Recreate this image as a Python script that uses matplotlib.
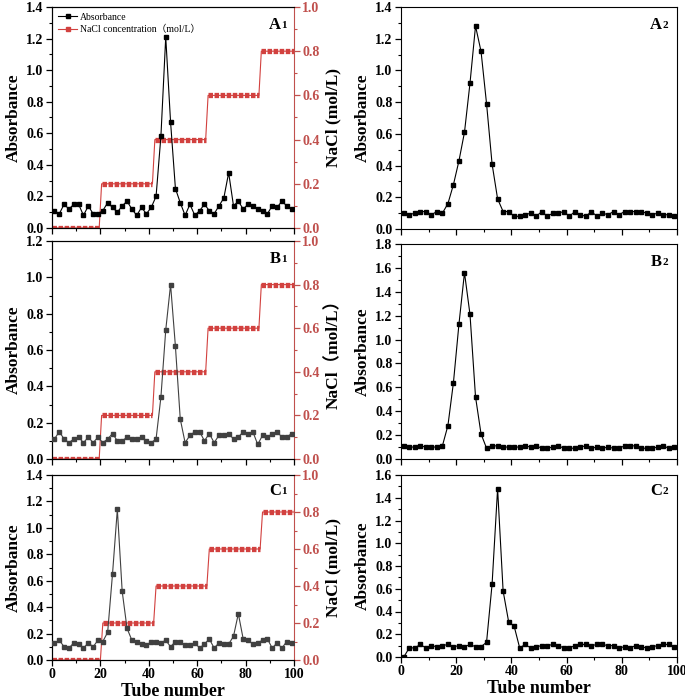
import matplotlib
matplotlib.use("Agg")
import matplotlib.pyplot as plt
from matplotlib.ticker import MultipleLocator
import numpy as np

plt.rcParams['font.family'] = ['Liberation Serif', 'Noto Sans CJK SC', 'DejaVu Sans']
plt.rcParams['font.weight'] = 'bold'

tubes = list(range(1, 100, 2))

abs_A1 = [0.11, 0.09, 0.15, 0.12, 0.15, 0.15, 0.08, 0.14, 0.09, 0.09,
          0.11, 0.16, 0.13, 0.10, 0.14, 0.17, 0.12, 0.08, 0.13, 0.09,
          0.13, 0.20, 0.58, 1.21, 0.67, 0.25, 0.16, 0.08, 0.15, 0.08,
          0.11, 0.15, 0.11, 0.09, 0.14, 0.19, 0.35, 0.14, 0.17, 0.12,
          0.15, 0.14, 0.12, 0.11, 0.09, 0.14, 0.13, 0.17, 0.14, 0.12]
abs_B1 = [0.11, 0.15, 0.11, 0.09, 0.11, 0.12, 0.09, 0.12, 0.09, 0.12,
          0.09, 0.11, 0.14, 0.10, 0.10, 0.12, 0.11, 0.11, 0.12, 0.10,
          0.09, 0.11, 0.34, 0.71, 0.96, 0.62, 0.22, 0.09, 0.13, 0.15,
          0.15, 0.10, 0.14, 0.09, 0.13, 0.13, 0.14, 0.11, 0.12, 0.15,
          0.14, 0.15, 0.08, 0.13, 0.12, 0.14, 0.15, 0.12, 0.12, 0.14]
abs_C1 = [0.13, 0.15, 0.10, 0.09, 0.13, 0.12, 0.09, 0.13, 0.10, 0.15,
          0.14, 0.21, 0.65, 1.14, 0.52, 0.24, 0.15, 0.14, 0.12, 0.11,
          0.14, 0.14, 0.13, 0.15, 0.10, 0.14, 0.14, 0.11, 0.11, 0.13,
          0.09, 0.12, 0.16, 0.09, 0.13, 0.12, 0.12, 0.18, 0.35, 0.16,
          0.15, 0.12, 0.13, 0.15, 0.16, 0.09, 0.13, 0.09, 0.14, 0.13]
abs_A2 = [0.10, 0.09, 0.10, 0.11, 0.11, 0.09, 0.11, 0.10, 0.16, 0.28,
          0.43, 0.61, 0.92, 1.28, 1.12, 0.79, 0.41, 0.19, 0.11, 0.11,
          0.08, 0.08, 0.09, 0.10, 0.08, 0.11, 0.08, 0.10, 0.10, 0.11,
          0.08, 0.11, 0.09, 0.08, 0.11, 0.08, 0.10, 0.09, 0.11, 0.09,
          0.11, 0.11, 0.11, 0.11, 0.10, 0.09, 0.10, 0.09, 0.09, 0.08]
abs_B2 = [0.11, 0.10, 0.10, 0.11, 0.10, 0.10, 0.10, 0.11, 0.28, 0.64,
          1.13, 1.56, 1.21, 0.52, 0.21, 0.09, 0.11, 0.11, 0.10, 0.10,
          0.10, 0.10, 0.11, 0.10, 0.11, 0.09, 0.09, 0.10, 0.11, 0.09,
          0.09, 0.09, 0.10, 0.11, 0.09, 0.10, 0.09, 0.10, 0.09, 0.09,
          0.11, 0.11, 0.11, 0.09, 0.09, 0.09, 0.10, 0.11, 0.09, 0.10]
abs_C2 = [0.00, 0.08, 0.08, 0.11, 0.08, 0.10, 0.09, 0.10, 0.11, 0.09,
          0.10, 0.09, 0.11, 0.09, 0.09, 0.13, 0.64, 1.48, 0.58, 0.31,
          0.27, 0.08, 0.11, 0.08, 0.09, 0.10, 0.10, 0.11, 0.10, 0.08,
          0.08, 0.10, 0.11, 0.11, 0.10, 0.11, 0.11, 0.10, 0.10, 0.08,
          0.09, 0.08, 0.10, 0.09, 0.08, 0.09, 0.10, 0.11, 0.11, 0.09]

# NaCl step gradient: plateau start / end tubes and concentration
nacl_levels = [0.0, 0.2, 0.4, 0.6, 0.8]
nacl_start_AB = [0, 20.5, 42.5, 64.5, 86.5]
nacl_end_AB = [19.5, 41.5, 63.5, 85.5, 100]
nacl_start_C = [0, 21, 43, 65, 87]
nacl_end_C = [20, 42, 64, 86, 100]

RED = '#d2413f'
RED_TXT = '#c0504d'
serif = ['Liberation Serif', 'Noto Sans CJK SC', 'DejaVu Sans']

fig = plt.figure(figsize=(6.85, 7.0), dpi=100)

def frac(x0, x1, ytop, ybot):
    return [x0 / 685, 1 - ybot / 700, (x1 - x0) / 685, (ybot - ytop) / 700]

def style_x(ax, show_labels):
    ax.set_xlim(0, 100)
    ax.xaxis.set_major_locator(MultipleLocator(20))
    ax.xaxis.set_minor_locator(MultipleLocator(10))
    ax.tick_params(axis='x', which='major', direction='out', length=4, width=0.9,
                   labelsize=10, pad=2, labelbottom=show_labels)
    ax.tick_params(axis='x', which='minor', direction='out', length=2.5, width=0.8)

def style_y(ax, top, step):
    ax.set_ylim(0, top)
    ax.yaxis.set_major_locator(MultipleLocator(step))
    ax.yaxis.set_minor_locator(MultipleLocator(step / 2))
    ax.yaxis.set_major_formatter(matplotlib.ticker.FormatStrFormatter('%.1f'))
    ax.tick_params(axis='y', which='major', direction='out', length=4, width=0.9,
                   labelsize=10, pad=2)
    ax.tick_params(axis='y', which='minor', direction='out', length=2.5, width=0.8)

def panel_label(ax, letter, digit):
    ax.text(0.945, 0.955, letter, transform=ax.transAxes, ha='right', va='top',
            fontsize=12, fontweight='bold', family=serif)
    ax.text(0.948, 0.935, digit, transform=ax.transAxes, ha='left', va='top',
            fontsize=8, fontweight='bold', family=serif)

def left_panel(rect, data, ytop, ystep, color, starts, ends, letter, rlabel,
               show_x, legend=False):
    ax = fig.add_axes(rect)
    la, = ax.plot(tubes, data, '-', color=color, lw=0.8, marker='s', ms=3.4,
                  mfc=color, mec=color, label='Absorbance', zorder=3)
    style_x(ax, show_x)
    style_y(ax, ytop, ystep)
    ax2 = ax.twinx()
    xs, ys = [], []
    for s, e, v in zip(starts, ends, nacl_levels):
        xs += [s, e]
        ys += [v, v]
    ax2.plot(xs, ys, '-', color=RED, lw=0.8, zorder=2)
    for s, e, v in zip(starts, ends, nacl_levels):
        ax2.plot([s, e], [v, v], color=RED, lw=3.8, dashes=(0.85, 0.3),
                 solid_capstyle='butt', dash_capstyle='butt', zorder=2)
    lr, = ax2.plot([], [], '-', color=RED, lw=0.8, marker='s', ms=3,
                   label='NaCl concentration（mol/L）')
    ax2.set_ylim(0, 1.0)
    ax2.yaxis.set_major_locator(MultipleLocator(0.2))
    ax2.yaxis.set_minor_locator(MultipleLocator(0.1))
    ax2.yaxis.set_major_formatter(matplotlib.ticker.FormatStrFormatter('%.1f'))
    ax2.tick_params(axis='y', which='major', direction='out', length=4, width=0.9,
                    labelsize=10, pad=2, colors=RED_TXT)
    ax2.tick_params(axis='y', which='minor', direction='out', length=2.5, width=0.8,
                    colors=RED_TXT)
    ax2.spines['right'].set_color(RED_TXT)
    ax.spines['right'].set_visible(False)
    ax.set_ylabel('Absorbance', fontsize=12.5, fontweight='bold', labelpad=3)
    ax2.set_ylabel(rlabel, fontsize=12.5, fontweight='bold', labelpad=4, family=serif)
    ax.set_zorder(ax2.get_zorder() + 1)
    ax.patch.set_visible(False)
    panel_label(ax, letter[0], letter[1])
    if legend:
        ax.legend([la, lr], ['Absorbance', 'NaCl concentration（mol/L）'],
                  loc='upper left', frameon=False,
                  prop={'family': serif, 'size': 7, 'weight': 'normal'},
                  handlelength=2.0, handletextpad=0.3, borderaxespad=0.2,
                  labelspacing=0.3, bbox_to_anchor=(0.0, 1.0))
    return ax

def right_panel(rect, data, ytop, ystep, letter, show_x):
    ax = fig.add_axes(rect)
    ax.plot(tubes, data, '-', color='black', lw=0.8, marker='s', ms=3.4,
            mfc='black', mec='black', zorder=3)
    style_x(ax, show_x)
    style_y(ax, ytop, ystep)
    ax.set_ylabel('Absorbance', fontsize=12.5, fontweight='bold', labelpad=3)
    panel_label(ax, letter[0], letter[1])
    return ax

axA1 = left_panel(frac(52, 294, 7, 228), abs_A1, 1.4, 0.2, 'black',
                  nacl_start_AB, nacl_end_AB, 'A1', 'NaCl (mol/L)', False, legend=True)
axB1 = left_panel(frac(52, 294, 241, 459), abs_B1, 1.2, 0.2, '#404040',
                  nacl_start_AB, nacl_end_AB, 'B1', 'NaCl（mol/L）', False)
axC1 = left_panel(frac(52, 294, 475, 660), abs_C1, 1.4, 0.2, '#404040',
                  nacl_start_C, nacl_end_C, 'C1', 'NaCl (mol/L)', True)
axC1.set_xlabel('Tube number', fontsize=13, fontweight='bold', labelpad=1)

axA2 = right_panel(frac(401, 677, 7, 229), abs_A2, 1.4, 0.2, 'A2', False)
axB2 = right_panel(frac(401, 677, 244, 459), abs_B2, 1.8, 0.2, 'B2', False)
axC2 = right_panel(frac(401, 677, 475, 657), abs_C2, 1.6, 0.2, 'C2', True)
axC2.set_xlabel('Tube number', fontsize=13, fontweight='bold', labelpad=1)

for ax in fig.axes:
    for lab in ax.get_xticklabels() + ax.get_yticklabels():
        lab.set_fontweight('bold')

fig.savefig('out.png', dpi=100)
